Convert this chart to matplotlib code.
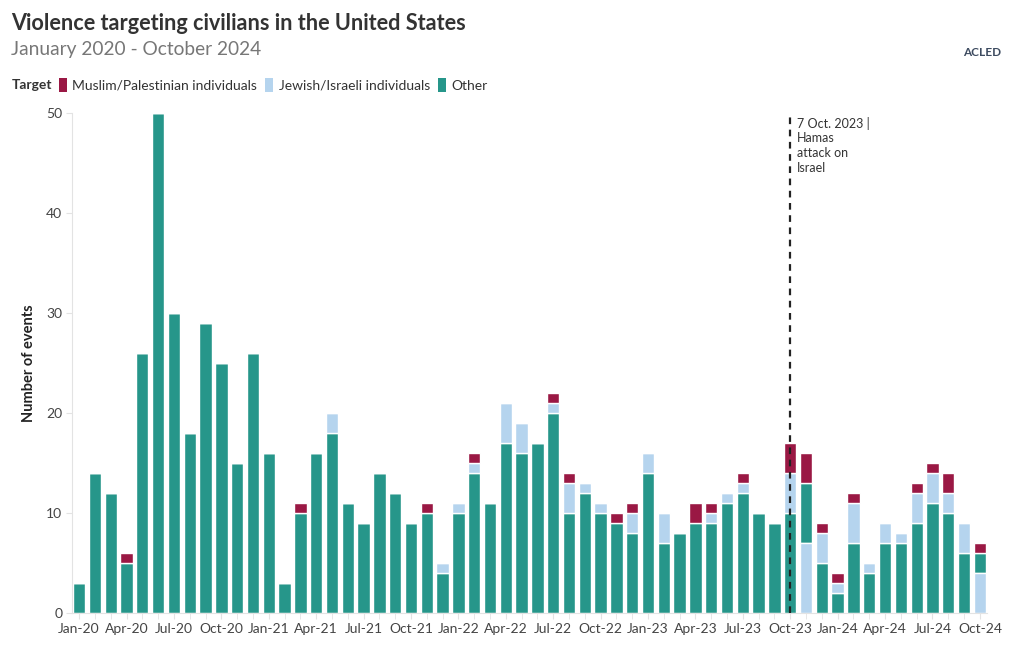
import numpy as np
import matplotlib
matplotlib.use("Agg")
import matplotlib.pyplot as plt
from matplotlib.patches import Patch

plt.rcParams["font.family"] = ["Lato", "DejaVu Sans"]

# monthly counts, Jan 2020 - Oct 2024
other = [3, 14, 12, 5, 26, 50, 30, 18, 29, 25, 15, 26,
         16, 3, 10, 16, 18, 11, 9, 14, 12, 9, 10, 4,
         10, 14, 11, 17, 16, 17, 20, 10, 12, 10, 9, 8,
         14, 7, 8, 9, 9, 11, 12, 10, 9, 10, 6, 5,
         2, 7, 4, 7, 7, 9, 11, 10, 6, 2]
jewish = [0, 0, 0, 0, 0, 0, 0, 0, 0, 0, 0, 0,
          0, 0, 0, 0, 2, 0, 0, 0, 0, 0, 0, 1,
          1, 1, 0, 4, 3, 0, 1, 3, 1, 1, 0, 2,
          2, 3, 0, 0, 1, 1, 1, 0, 0, 4, 7, 3,
          1, 4, 1, 2, 1, 3, 3, 2, 3, 4]
muslim = [0, 0, 0, 1, 0, 0, 0, 0, 0, 0, 0, 0,
          0, 0, 1, 0, 0, 0, 0, 0, 0, 0, 1, 0,
          0, 1, 0, 0, 0, 0, 1, 1, 0, 0, 1, 1,
          0, 0, 0, 2, 1, 0, 1, 0, 0, 3, 3, 1,
          1, 1, 0, 0, 0, 1, 1, 2, 0, 1]
months = ["Jan", "Feb", "Mar", "Apr", "May", "Jun", "Jul", "Aug", "Sep", "Oct", "Nov", "Dec"]
labels = [f"{m}-{y}" for y in range(20, 25) for m in months][:len(other)]
series = ["Other", "Jewish/Israeli individuals", "Muslim/Palestinian individuals"]
colors = ["#26968a", "#b5d4ee", "#9a1844"]
event_idx = 45  # Oct-23

vals = np.array([other, jewish, muslim], dtype=float)
n = vals.shape[1]
x = np.arange(n)

# stack each bar with its largest segment at the bottom
bottoms = np.zeros_like(vals)
for j in range(n):
    order = np.argsort(-vals[:, j], kind="stable")
    b = 0
    for k in order:
        bottoms[k, j] = b
        b += vals[k, j]

fig = plt.figure(figsize=(10.2, 6.5), dpi=100)
ax = fig.add_axes([72/1020, 37/650, 915/1020, 500/650])
for k in range(3):
    ax.bar(x, vals[k], 0.78, bottom=bottoms[k], color=colors[k],
           edgecolor="white", linewidth=1.0, zorder=2)

ax.set_xlim(-0.45, n - 0.55)
ax.set_ylim(0, 50)
ax.set_yticks(range(0, 51, 10))
ax.set_xticks(x[::3])
ax.set_xticklabels(labels[::3])
ax.set_xticks(x, minor=True)
for s in ["top", "right"]:
    ax.spines[s].set_visible(False)
ax.spines["left"].set_color("#e3e3e3")
ax.spines["bottom"].set_color("#e3e3e3")
ax.tick_params(axis="both", colors="#e3e3e3", labelcolor="#444444", labelsize=10, length=4)
ax.tick_params(axis="x", which="minor", colors="#e3e3e3", length=4)
ax.tick_params(axis="y", pad=3)
ax.set_ylabel("Number of events", fontsize=10.5, color="#222222", weight="bold", labelpad=7)

ax.axvline(event_idx, color="#222222", ls=(0, (3, 2.5)), lw=1.6, zorder=3)
ax.text(event_idx + 0.4, 49.6, "7 Oct. 2023 |\nHamas\nattack on\nIsrael", fontsize=9,
        color="#333333", va="top", ha="left", linespacing=1.25)

fig.text(11/1020, 1 - 24/650, "Violence targeting civilians in the United States",
         fontsize=15.6, weight="bold", color="#333333", va="center")
fig.text(11/1020, 1 - 49/650, "January 2020 - October 2024", fontsize=13.8,
         color="#777777", va="center")
fig.text(12/1020, 1 - 85/650, "Target", fontsize=10, weight="bold", color="#333333", va="center")
handles = [Patch(facecolor=colors[2], label=series[2]),
           Patch(facecolor=colors[1], label=series[1]),
           Patch(facecolor=colors[0], label=series[0])]
fig.legend(handles=handles, loc="center left", bbox_to_anchor=(53/1020, 1 - 85/650), ncol=3,
           frameon=False, fontsize=10, handlelength=0.6, handleheight=1.1,
           handletextpad=0.4, columnspacing=0.55, labelcolor="#333333", borderaxespad=0)

fig.text(982/1020, 1 - 52/650, "ACLED", fontsize=8.5, weight="bold", color="#3d4b60",
         ha="center", va="center")

fig.savefig("out.png", dpi=100)
